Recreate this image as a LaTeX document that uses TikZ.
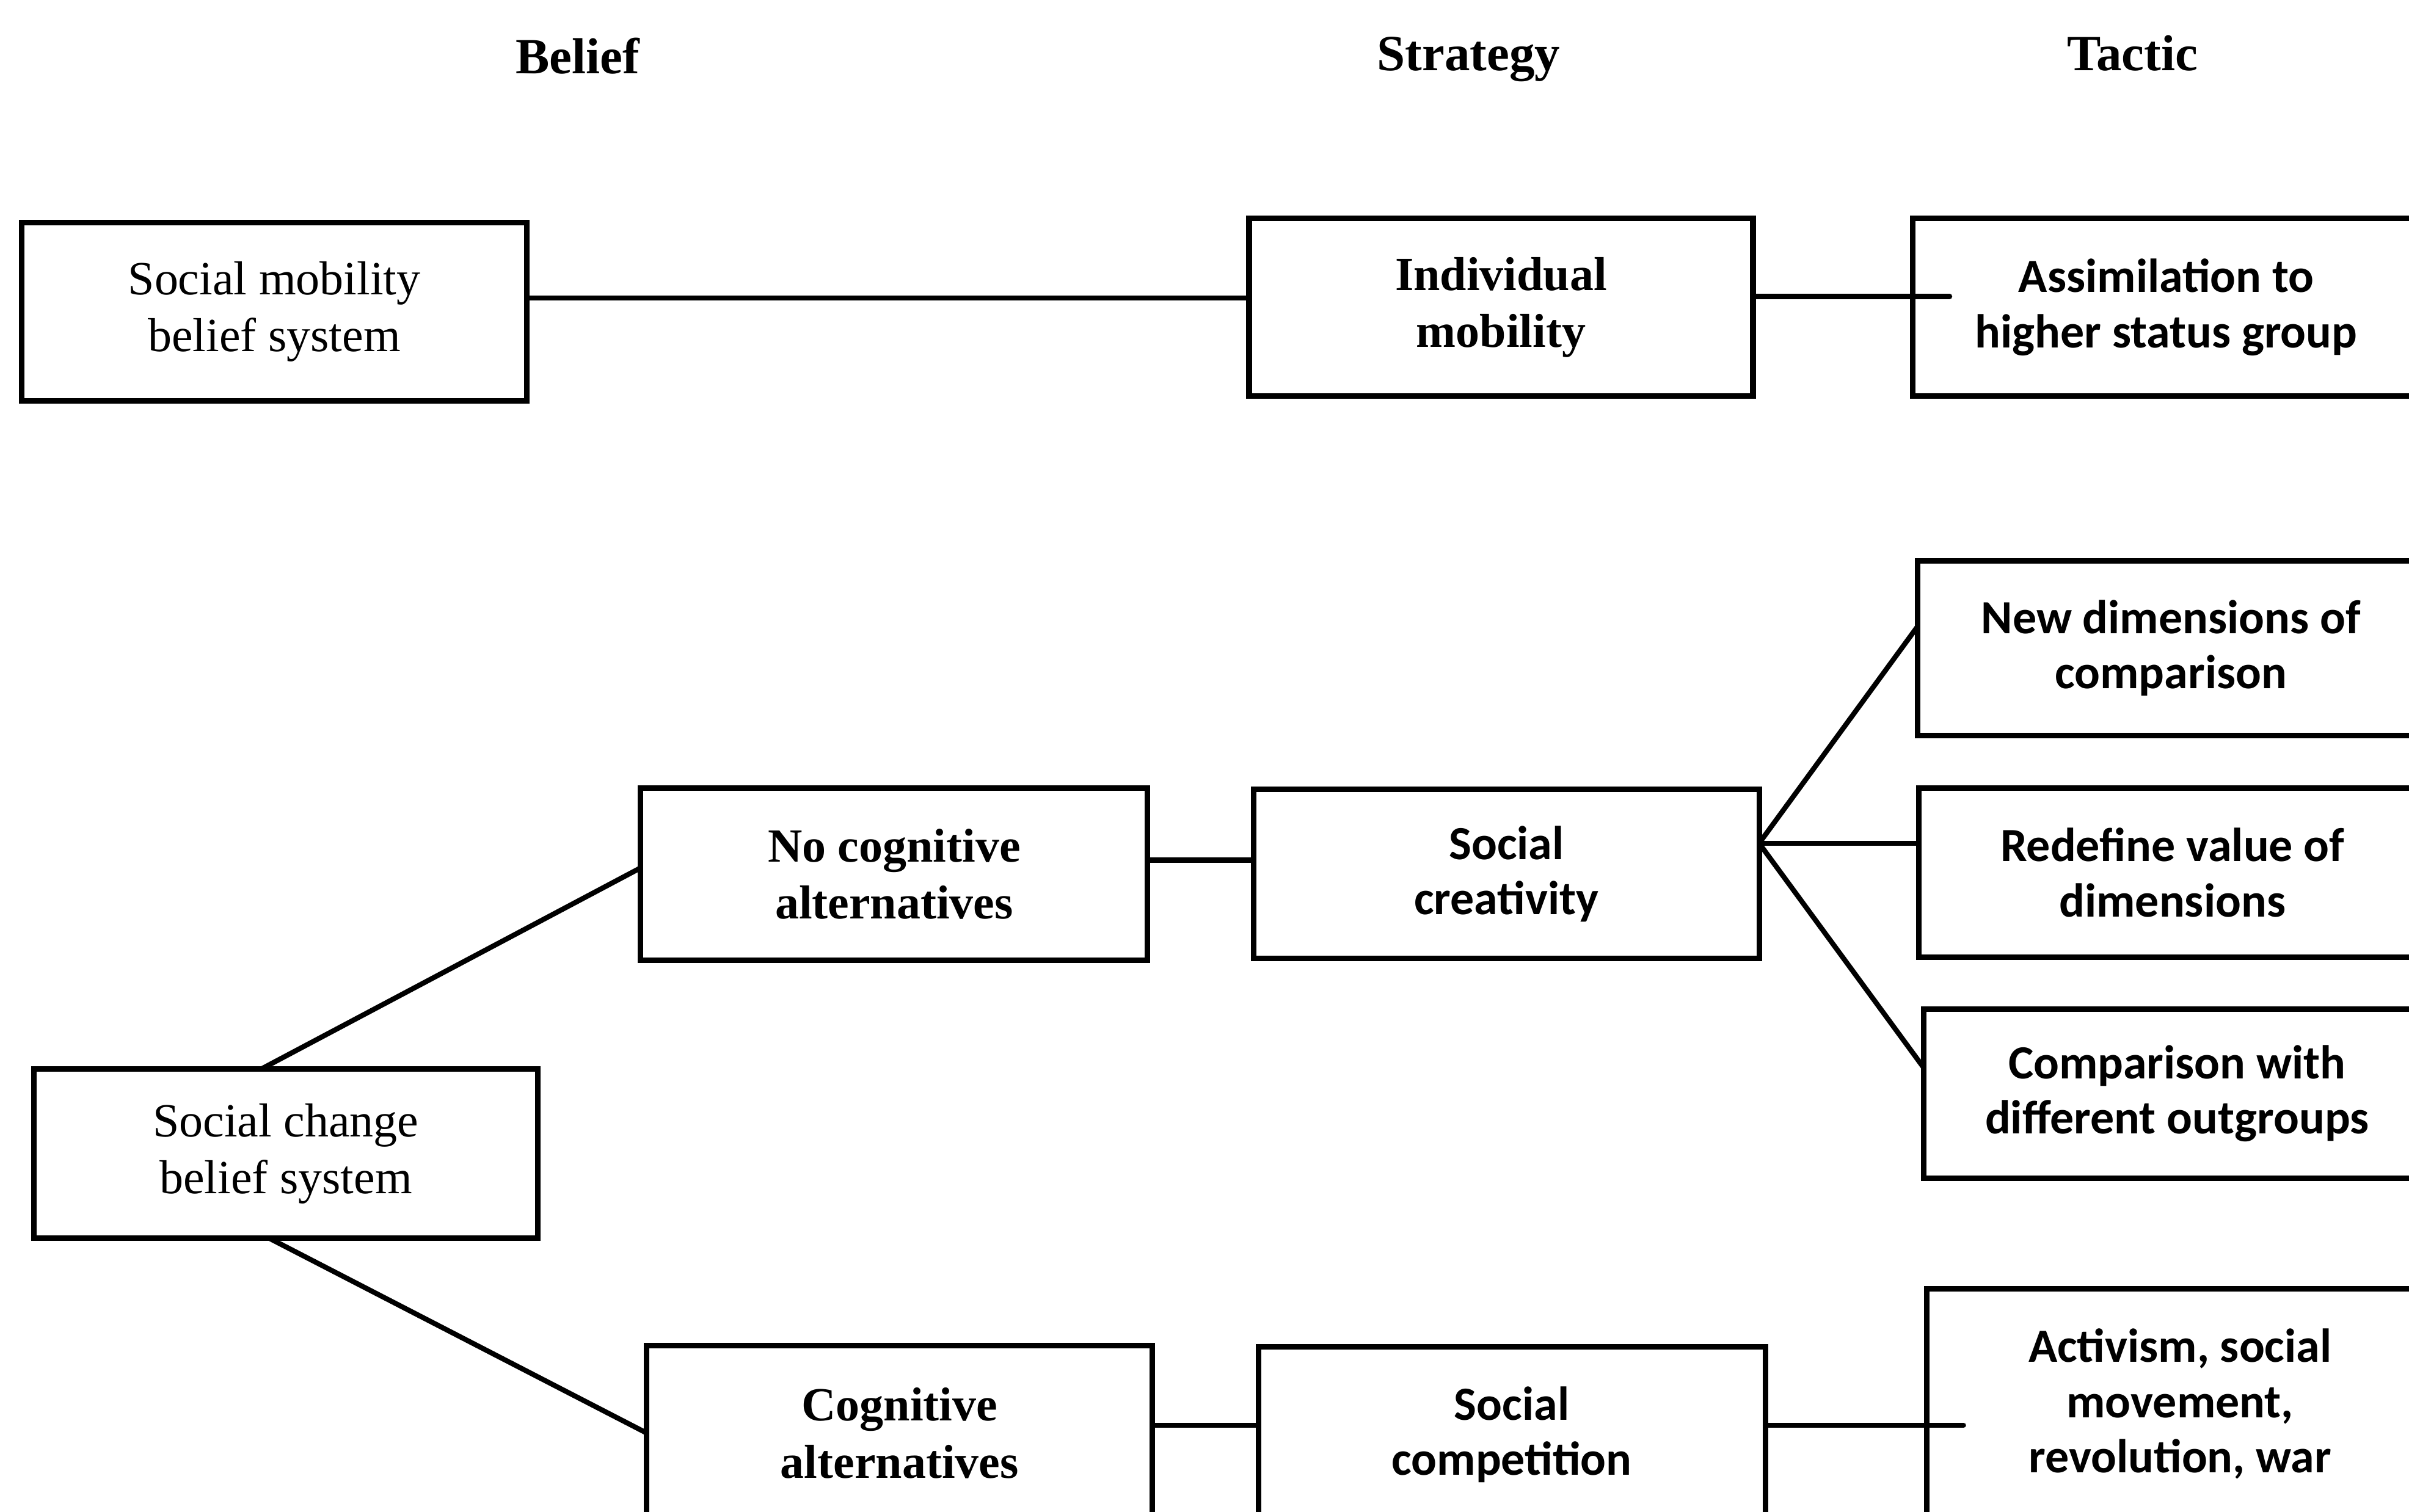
\documentclass[tikz,border=0pt]{standalone}
\usepackage{fontspec}
\setmainfont{Liberation Serif}
\newfontfamily\gillish{Carlito}
\begin{document}
\begin{tikzpicture}[x=1pt,y=-1pt,
  every node/.style={inner sep=0pt, outer sep=0pt},
  box/.style 2 args={draw, line width=3.6pt, align=center,
    minimum width=#1pt, minimum height=#2pt},
  txtreg/.style={font=\fontsize{31}{37}\selectfont},
  txtbold/.style={font=\fontsize{31}{37}\selectfont\bfseries},
  txtsans/.style={font=\fontsize{31}{36}\selectfont\gillish\bfseries},
  head/.style={font=\fontsize{33}{40}\selectfont\bfseries, anchor=base},
  link/.style={line width=3.3pt}]
\useasboundingbox (0,0) rectangle (1568,984);
\clip (0,0) rectangle (1568,984);

% column headings
\node[head] (hbelief) at (376,48) {Belief};
\node[head] (hstrat) at (956,46) {Strategy};
\node[head] (htactic) at (1388,46) {Tactic};

% belief column
\node[box={329}{116}, txtreg] (smb) at (178.5,203) {Social mobility\\belief system};
\node[box={328}{110}, txtreg] (schange) at (186,751) {Social change\\belief system};
\node[box={330}{112}, txtbold] (nocog) at (582,569) {No cognitive\\alternatives};
\node[box={329}{114}, txtbold] (cogalt) at (585.5,933) {Cognitive\\alternatives};

% strategy column
\node[box={328}{116}, txtbold] (ind) at (977,200) {Individual\\mobility};
\node[box={329}{110}, txtsans] (screat) at (980.5,569) {Social\\creativity};
\node[box={330}{114}, txtsans] (scomp) at (984,934) {Social\\competition};

% tactic column
\node[box={330}{116}, txtsans] (assim) at (1410,200) {Assimilation to\\higher status group};
\node[box={330}{114}, txtsans] (newdim) at (1413,422) {New dimensions of\\comparison};
\node[box={330}{110}, txtsans] (redef) at (1414,568) {Redefine value of\\dimensions};
\node[box={330}{110}, txtsans] (compar) at (1417,712) {Comparison with\\different outgroups};
\node[box={330}{150}, txtsans] (activ) at (1419,914) {Activism, social\\movement,\\revolution, war};

% connectors
\draw[link] ([yshift=9pt]smb.east) -- ([yshift=6pt]ind.west);
\draw[link, line cap=round] ([yshift=7pt]ind.east) -- ([xshift=24pt,yshift=7pt]assim.west);

\draw[link] ([xshift=-16pt]schange.north) -- ([yshift=4pt]nocog.west);
\draw[link] ([xshift=-11pt]schange.south) -- (cogalt.west);

\draw[link] ([yshift=9pt]nocog.east) -- ([yshift=9pt]screat.west);
\coordinate (fan) at ([yshift=20pt]screat.east);
\draw[link] (fan) -- ([yshift=14pt]newdim.west);
\draw[link] (fan) -- ([yshift=19pt]redef.west);
\draw[link] (fan) -- ([yshift=17pt]compar.west);

\draw[link] ([yshift=5pt]cogalt.east) -- ([yshift=6pt]scomp.west);
\draw[link, line cap=round] ([yshift=6pt]scomp.east) -- ([xshift=24pt,yshift=-14pt]activ.west);
\end{tikzpicture}
\end{document}
